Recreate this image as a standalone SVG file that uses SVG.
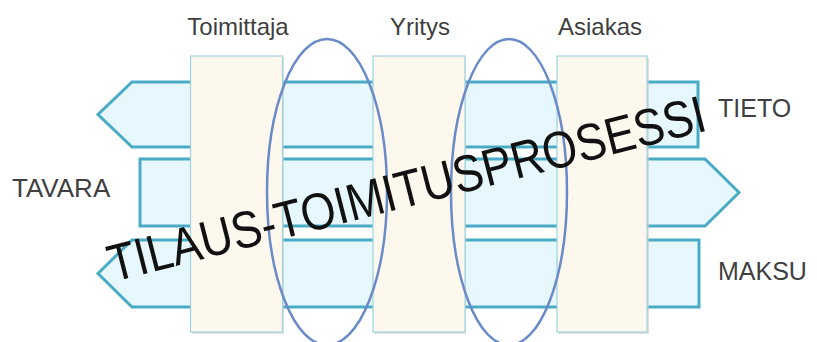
<svg xmlns="http://www.w3.org/2000/svg" width="817" height="342" viewBox="0 0 817 342">
<style>
.arrow{fill:#e6f8fd;stroke:#4aabc5;stroke-width:3;stroke-linejoin:miter}
.col{fill:#fdf8ee;stroke:#9ed2df;stroke-width:1.2}
.shadow{fill:#c9c9c9;opacity:0.6}
.ell{fill:none;stroke:#6a8bc8;stroke-width:2.5}
.lbl{font-family:"Liberation Sans",Arial,sans-serif;fill:#3f3f3f}
.big{font-family:"Liberation Sans",Arial,sans-serif;fill:#111111;font-size:52px}
</style>
<rect width="817" height="342" fill="#ffffff"/>
<g id="flows">
<g id="tieto-arrow"><polygon class="arrow" points="132,82 698,82 698,147 132,147 98,114.5"/></g>
<g id="tavara-arrow"><polygon class="arrow" points="140,159 705,159 739,192.5 705,226 140,226"/></g>
<g id="maksu-arrow"><polygon class="arrow" points="132,240 699,240 699,307 132,307 98,273.5"/></g>
</g>
<g id="toimittaja">
<rect class="shadow" x="192" y="58" width="92" height="276"/>
<rect class="col" x="190.5" y="56" width="92" height="276"/>
<text class="lbl" x="238" y="35" font-size="24" text-anchor="middle">Toimittaja</text>
</g>
<g id="yritys">
<rect class="shadow" x="374" y="58" width="92" height="276"/>
<rect class="col" x="373" y="56" width="92" height="276"/>
<text class="lbl" x="420" y="35" font-size="24" text-anchor="middle">Yritys</text>
</g>
<g id="asiakas">
<rect class="shadow" x="558" y="58" width="91" height="276"/>
<rect class="col" x="557" y="56" width="90" height="276"/>
<text class="lbl" x="600" y="35" font-size="24" text-anchor="middle">Asiakas</text>
</g>
<g id="interfaces">
<ellipse class="ell" cx="327" cy="192" rx="60" ry="153"/>
<ellipse class="ell" cx="509" cy="192" rx="58" ry="153"/>
</g>
<g id="labels">
<text class="lbl" x="718" y="117" font-size="25">TIETO</text>
<text class="lbl" x="12" y="197" font-size="26">TAVARA</text>
<text class="lbl" x="718" y="280" font-size="25">MAKSU</text>
</g>
<g id="title">
<text class="big" x="0" y="0" transform="translate(113,282) rotate(-14.3)" textLength="615" lengthAdjust="spacingAndGlyphs">TILAUS-TOIMITUSPROSESSI</text>
</g>
</svg>
